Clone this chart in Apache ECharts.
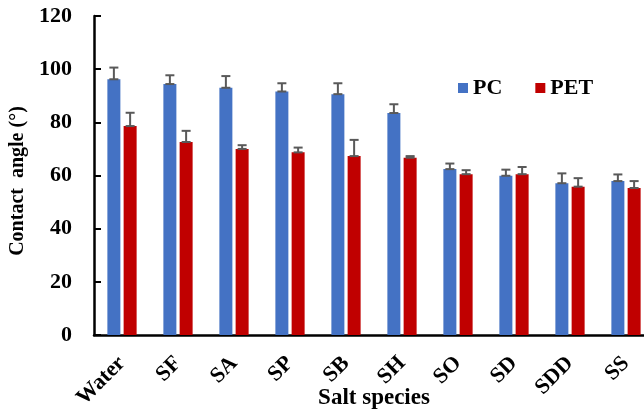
<!DOCTYPE html>
<html>
<head>
<meta charset="utf-8">
<script src="https://cdn.jsdelivr.net/npm/echarts@6/dist/echarts.min.js"></script>
<style>
  html, body { margin: 0; padding: 0; background: #fff; }
  #chart { width: 644px; height: 414px; }
</style>
</head>
<body>
<div id="chart"></div>
<script>
// Salt species along the x axis
const categories = ['Water', 'SF', 'SA', 'SP', 'SB', 'SH', 'SO', 'SD', 'SDD', 'SS'];
// Mean contact angles (degrees)
const pcValues  = [96.2, 94.4, 93.0, 91.6, 90.6, 83.5, 62.4, 59.9, 57.1, 57.9];
const petValues = [78.6, 72.6, 70.0, 68.7, 67.3, 66.7, 60.5, 60.5, 55.8, 55.3];
// Standard deviations (drawn as upper error bars)
const pcErrors  = [4.4, 3.3, 4.4, 3.1, 4.1, 3.3, 2.1, 2.3, 3.7, 2.5];
const petErrors = [5.0, 4.2, 1.4, 1.8, 6.1, 0.6, 1.5, 2.7, 3.2, 2.6];
// Y-axis ticks
const yTicks = [0, 20, 40, 60, 80, 100, 120];

const FONT = "'Liberation Serif', 'Times New Roman', serif";
const BAR_W = 13;
const BAR_GAP = 0.25;               // fraction of bar width between PC and PET
const HALF_STEP = (BAR_W * (1 + BAR_GAP)) / 2;

function errorSeries(values, errors, offset) {
  return {
    type: 'custom',
    silent: true,
    z: 5,
    data: values.map((v, i) => [i, v, errors[i]]),
    renderItem: function (params, api) {
      const i = api.value(0);
      const v = api.value(1);
      const e = api.value(2);
      const base = api.coord([i, v]);
      const top = api.coord([i, v + e]);
      const x = base[0] + offset;
      const cap = 4.5;
      const style = { stroke: '#595959', lineWidth: 2 };
      return {
        type: 'group',
        children: [
          { type: 'line', shape: { x1: x, y1: base[1], x2: x, y2: top[1] }, style },
          { type: 'line', shape: { x1: x - cap, y1: top[1], x2: x + cap, y2: top[1] }, style },
          { type: 'line', shape: { x1: x - cap, y1: base[1], x2: x + cap, y2: base[1] }, style }
        ]
      };
    }
  };
}

const chart = echarts.init(document.getElementById('chart'));
chart.setOption({
  animation: false,
  backgroundColor: '#fff',
  textStyle: { fontFamily: FONT },
  grid: {
    left: 94, top: 16, width: 560, bottom: 79,
    containLabel: false, outerBoundsMode: 'none'
  },
  legend: {
    left: 453, top: 72,
    icon: 'rect', itemWidth: 10, itemHeight: 10, itemGap: 33,
    textStyle: { fontFamily: FONT, fontSize: 22, fontWeight: 'bold', color: '#000' },
    data: ['PC', 'PET']
  },
  xAxis: {
    type: 'category',
    data: categories,
    name: 'Salt species',
    nameLocation: 'middle',
    nameGap: 52,
    nameMoveOverlap: false,
    nameTextStyle: { fontFamily: FONT, fontSize: 23, fontWeight: 'bold', color: '#000' },
    axisLine: { lineStyle: { color: '#000', width: 2.5 } },
    axisTick: { inside: true, length: 5, lineStyle: { color: '#000', width: 2 } },
    axisLabel: {
      rotate: 45, margin: 25, interval: 0,
      fontFamily: FONT, fontSize: 22, fontWeight: 'bold', color: '#000'
    }
  },
  yAxis: {
    type: 'value',
    min: yTicks[0], max: yTicks[yTicks.length - 1], interval: yTicks[1] - yTicks[0],
    name: 'Contact  angle (°)',
    nameLocation: 'middle',
    nameGap: 60,
    nameTextStyle: {
      fontFamily: FONT, fontSize: 20, fontWeight: 'bold', color: '#000',
      padding: [0, 11, 0, 0]
    },
    axisLine: { show: true, lineStyle: { color: '#000', width: 2.5 } },
    axisTick: { show: true, inside: true, length: 7, lineStyle: { color: '#000', width: 2 } },
    splitLine: { show: false },
    axisLabel: { margin: 22, fontFamily: FONT, fontSize: 22, fontWeight: 'bold', color: '#000' }
  },
  series: [
    {
      name: 'PC', type: 'bar', data: pcValues,
      barWidth: BAR_W, barGap: (BAR_GAP * 100) + '%',
      itemStyle: { color: '#4472C4' }
    },
    {
      name: 'PET', type: 'bar', data: petValues,
      barWidth: BAR_W, barGap: (BAR_GAP * 100) + '%',
      itemStyle: { color: '#C00000' }
    },
    errorSeries(pcValues, pcErrors, -HALF_STEP),
    errorSeries(petValues, petErrors, HALF_STEP)
  ]
});
</script>
</body>
</html>
